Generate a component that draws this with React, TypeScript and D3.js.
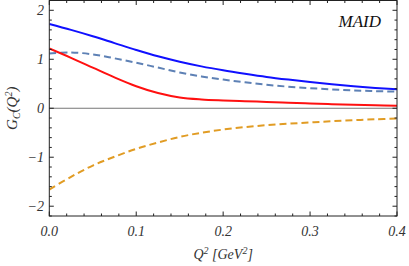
import React, { useEffect, useRef } from "react";
import * as d3 from "d3";

// Q^2 grid [GeV^2]
const q2 = [0, 0.025, 0.05, 0.075, 0.1, 0.125, 0.15, 0.175, 0.2, 0.225, 0.25, 0.275, 0.3, 0.325, 0.35, 0.375, 0.4];

// curves
const blueSolid = [1.72, 1.6, 1.47, 1.33, 1.19, 1.06, 0.95, 0.855, 0.775, 0.705, 0.64, 0.585, 0.535, 0.49, 0.45, 0.415, 0.386];
const blueDashed = [1.12, 1.14, 1.1, 1.02, 0.93, 0.83, 0.73, 0.65, 0.585, 0.53, 0.48, 0.44, 0.41, 0.385, 0.365, 0.35, 0.34];
const redSolid = [1.22, 1.03, 0.83, 0.63, 0.45, 0.31, 0.22, 0.18, 0.16, 0.145, 0.128, 0.112, 0.097, 0.083, 0.071, 0.06, 0.05];
const orangeDashed = [-1.66, -1.4, -1.17, -0.99, -0.83, -0.7, -0.585, -0.5, -0.435, -0.385, -0.345, -0.315, -0.29, -0.265, -0.245, -0.225, -0.21];

const xTicks = [0, 0.1, 0.2, 0.3, 0.4];
const xTickLabels = ["0.0", "0.1", "0.2", "0.3", "0.4"];
const yTicks = [-2, -1, 0, 1, 2];
const yTickLabels = ["\u22122", "\u22121", "0", "1", "2"];

const font = "Liberation Serif";

export default function App() {
  const ref = useRef<SVGSVGElement>(null);

  useEffect(() => {
    const width = 409;
    const height = 266;
    const margin = { top: 0.5, left: 49.3, bottom: 50, right: 12 };

    const svg = d3.select(ref.current);
    svg.selectAll("*").remove();

    const x = d3.scaleLinear().domain([0, 0.4]).range([margin.left, width - margin.right]);
    const y = d3.scaleLinear().domain([-2.2, 2.2]).range([height - margin.bottom, margin.top]);

    const [x0, x1] = x.range();
    const [y0, y1] = y.range();

    // zero line
    svg.append("line")
      .attr("x1", x0).attr("x2", x1)
      .attr("y1", y(0)).attr("y2", y(0))
      .attr("stroke", "#777").attr("stroke-width", 1);

    const line = d3.line<number>()
      .x((d, i) => x(q2[i]))
      .y(d => y(d))
      .curve(d3.curveCatmullRom.alpha(0.5));

    const series = [
      { values: orangeDashed, color: "#e19c24", dash: "7,4" },
      { values: blueDashed, color: "#5e81b5", dash: "7,4" },
      { values: redSolid, color: "#ff1010", dash: null },
      { values: blueSolid, color: "#1010ff", dash: null },
    ];

    const clip = svg.append("clipPath").attr("id", "plotclip");
    clip.append("rect").attr("x", x0).attr("y", y1).attr("width", x1 - x0).attr("height", y0 - y1);

    series.forEach(s => {
      svg.append("path")
        .attr("d", line(s.values))
        .attr("fill", "none")
        .attr("stroke", s.color)
        .attr("stroke-width", 2)
        .attr("stroke-dasharray", s.dash)
        .attr("clip-path", "url(#plotclip)");
    });

    // frame
    svg.append("rect")
      .attr("x", x0).attr("y", y1)
      .attr("width", x1 - x0).attr("height", y0 - y1)
      .attr("fill", "none").attr("stroke", "#222").attr("stroke-width", 1);

    const ticks = svg.append("g").attr("stroke", "#222").attr("stroke-width", 1);
    d3.range(0, 0.4001, 0.02).forEach(v => {
      const major = Math.abs(v * 10 - Math.round(v * 10)) < 1e-6;
      const len = major ? 4.5 : 2.5;
      ticks.append("line").attr("x1", x(v)).attr("x2", x(v)).attr("y1", y0).attr("y2", y0 - len);
      ticks.append("line").attr("x1", x(v)).attr("x2", x(v)).attr("y1", y1).attr("y2", y1 + len);
    });
    d3.range(-2.2, 2.2001, 0.2).forEach(v => {
      const major = Math.abs(v - Math.round(v)) < 1e-6;
      const len = major ? 4.5 : 2.5;
      ticks.append("line").attr("x1", x0).attr("x2", x0 + len).attr("y1", y(v)).attr("y2", y(v));
      ticks.append("line").attr("x1", x1).attr("x2", x1 - len).attr("y1", y(v)).attr("y2", y(v));
    });

    svg.selectAll(".xl").data(xTicks).enter()
      .append("text")
      .attr("x", d => x(d))
      .attr("y", 236)
      .attr("text-anchor", "middle")
      .attr("font-family", font).attr("font-style", "italic").attr("font-size", 14)
      .attr("fill", "#333")
      .text((d, i) => xTickLabels[i]);

    svg.selectAll(".yl").data(yTicks).enter()
      .append("text")
      .attr("x", 44)
      .attr("y", d => y(d))
      .attr("dy", "0.35em")
      .attr("text-anchor", "end")
      .attr("font-family", font).attr("font-style", "italic").attr("font-size", 14)
      .attr("fill", "#333")
      .text((d, i) => yTickLabels[i]);

    // x label
    const xl = svg.append("text")
      .attr("x", (x0 + x1) / 2).attr("y", 259)
      .attr("text-anchor", "middle")
      .attr("font-family", font).attr("font-style", "italic").attr("font-size", 14)
      .attr("fill", "#333");
    xl.append("tspan").text("Q");
    xl.append("tspan").attr("dy", -5).attr("font-size", 10).text("2");
    xl.append("tspan").attr("dy", 5).text(" [GeV");
    xl.append("tspan").attr("dy", -5).attr("font-size", 10).text("2");
    xl.append("tspan").attr("dy", 5).text("]");

    // y label
    const yl = svg.append("text")
      .attr("transform", `translate(17, ${y(0)}) rotate(-90)`)
      .attr("text-anchor", "middle")
      .attr("font-family", font).attr("font-style", "italic").attr("font-size", 15)
      .attr("fill", "#333");
    yl.append("tspan").text("G");
    yl.append("tspan").attr("dy", 3).attr("font-size", 10).text("C");
    yl.append("tspan").attr("dy", -3).text("(Q");
    yl.append("tspan").attr("dy", -5).attr("font-size", 10).text("2");
    yl.append("tspan").attr("dy", 5).text(")");

    svg.append("text")
      .attr("x", 381).attr("y", 27)
      .attr("text-anchor", "end")
      .attr("font-family", font).attr("font-style", "italic").attr("font-size", 17)
      .attr("fill", "#111")
      .text("MAID");
  }, []);

  return (
    <svg
      ref={ref}
      width={409}
      height={266}
      style={{ position: "absolute", left: 0, top: 0, background: "white" }}
    />
  );
}
